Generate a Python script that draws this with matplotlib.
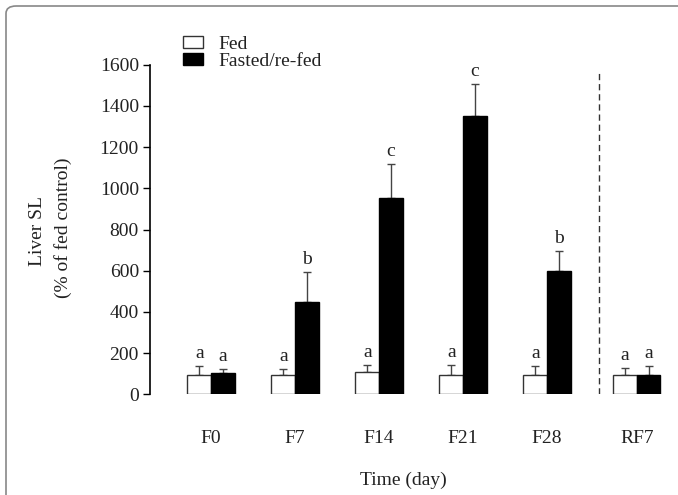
import matplotlib
matplotlib.use('Agg')
import matplotlib.pyplot as plt
from matplotlib.patches import FancyBboxPatch, Patch

plt.rcParams['font.family'] = ['Liberation Serif', 'DejaVu Serif']

# values (% of fed control)
groups = ['F0', 'F7', 'F14', 'F21', 'F28', 'RF7']
fed = [95, 95, 110, 95, 95, 95]
fed_err = [40, 27, 32, 47, 42, 33]
fasted = [102, 447, 953, 1352, 598, 95]
fasted_err = [20, 147, 165, 153, 98, 41]
fed_letters = ['a', 'a', 'a', 'a', 'a', 'a']
fasted_letters = ['a', 'b', 'c', 'c', 'b', 'a']

# RF7 sits a little further right, after the dashed separator
xpos = [0, 1, 2, 3, 4, 5.07]
sep_x = 4.62
w = 0.28
fs = 14
txt_col = '#222222'

fig = plt.figure(figsize=(6.78, 4.95), dpi=100)
ax = fig.add_axes([150/678, 100.7/495, 528/678, 329.6/495])

fed_x = [x - w/2 for x in xpos]
fast_x = [x + w/2 for x in xpos]
ax.bar(fed_x, fed, width=w, color='white', edgecolor='#333333', linewidth=1.0, zorder=2)
ax.bar(fast_x, fasted, width=w, color='black', edgecolor='black', linewidth=1.0, zorder=2)

# one-sided error bars (up only)
ax.errorbar(fed_x, fed, yerr=[[0]*len(fed), fed_err], fmt='none', ecolor='#444444',
            elinewidth=1.0, capsize=3, capthick=1.0, zorder=1)
ax.errorbar(fast_x, fasted, yerr=[[0]*len(fasted), fasted_err], fmt='none', ecolor='#444444',
            elinewidth=1.0, capsize=3, capthick=1.0, zorder=1)

for x, v, e, s in zip(fed_x, fed, fed_err, fed_letters):
    ax.text(x, v + e + 20, s, ha='center', va='bottom', fontsize=fs, color=txt_col)
for x, v, e, s in zip(fast_x, fasted, fasted_err, fasted_letters):
    ax.text(x, v + e + 20, s, ha='center', va='bottom', fontsize=fs, color=txt_col)

ax.axvline(sep_x, ymin=0.0, ymax=0.978, color='#333333', linestyle=(0, (4.5, 2.8)), linewidth=1.0)

ax.set_ylim(0, 1600)
ax.set_xlim(-0.726, -0.726 + 528/84)
ax.set_yticks(range(0, 1601, 200))
ax.set_xticks(xpos)
ax.set_xticklabels(groups)
for sp in ['top', 'right', 'bottom']:
    ax.spines[sp].set_visible(False)
ax.spines['left'].set_linewidth(1.2)
ax.tick_params(axis='y', length=5, width=1.0, labelsize=fs, labelcolor=txt_col, pad=3)
ax.tick_params(axis='x', length=0, labelsize=fs, labelcolor=txt_col, pad=26)
ax.patch.set_visible(False)

fig.text(38/678, 1 - 231/495, 'Liver SL', rotation=90, ha='center', va='center',
         fontsize=fs, color=txt_col)
fig.text(63/678, 1 - 228/495, '(% of fed control)', rotation=90, ha='center', va='center',
         fontsize=fs, color=txt_col)
fig.text(403/678, 1 - 480/495, 'Time (day)', ha='center', va='center', fontsize=fs, color=txt_col)

handles = [Patch(facecolor='white', edgecolor='#333333', linewidth=1.0),
           Patch(facecolor='black', edgecolor='black')]
fig.legend(handles, ['Fed', 'Fasted/re-fed'], loc='upper left',
           bbox_to_anchor=(171/678, 1 - 24/495), frameon=False, fontsize=fs,
           handlelength=1.05, handleheight=0.55, handletextpad=0.8, labelspacing=0.0,
           labelcolor=txt_col, borderpad=0.1)

# rounded outer frame
frame = FancyBboxPatch((6/678, -0.1), 1.2, 1 - 6/495 + 0.1,
                       boxstyle='round,pad=0,rounding_size=0.015',
                       transform=fig.transFigure, facecolor='none',
                       edgecolor='#888888', linewidth=1.2, clip_on=False)
fig.patches.append(frame)

fig.savefig('out.png', dpi=100)
